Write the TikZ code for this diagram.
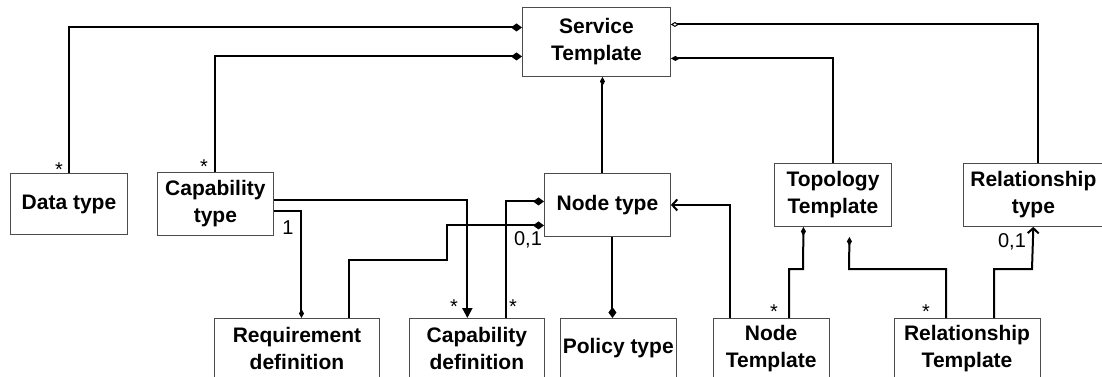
\documentclass[tikz,border=0pt]{standalone}
\usepackage{fontspec}
\setmainfont{Liberation Sans}
\usetikzlibrary{positioning,arrows.meta}

\tikzset{
  box/.style={draw=black!70, line width=0.9pt, fill=white, align=center, inner sep=0pt,
    font=\fontsize{21}{27}\selectfont\bfseries},
  link/.style={line width=2pt},
  mult/.style={inner sep=0pt, anchor=base, font=\fontsize{20}{24}\selectfont},
  comp/.style={link, -{Diamond[length=11pt,width=8pt]}},
  compsm/.style={link, -{Diamond[length=9pt,width=5pt]}},
  aggr/.style={link, -{Diamond[open,length=8pt,width=5pt,line width=1pt]}},
  assoc/.style={link, -{Straight Barb[length=5pt,width=11pt]}},
  dep/.style={link, -{Triangle[length=10pt,width=10pt]}},
}

\begin{document}
\begin{tikzpicture}[x=1pt, y=-1pt]
  \useasboundingbox (0,0) rectangle (1102,376);
  \clip (0,0) rectangle (1102,376);

  % --- Root node ---
  \node[box, anchor=north west, minimum width=148pt, minimum height=69pt] (st) at (522,7) {Service\\Template};

  % --- Type row ---
  \node[box, anchor=north west, minimum width=117pt, minimum height=61pt] (datatype) at (10,173) {Data type};
  \node[box, minimum width=116pt, minimum height=63pt] (captype) [right=29pt of datatype] {Capability\\type};
  \node[box, anchor=north west, minimum width=126pt, minimum height=63pt] (nodetype) at (544,173) {Node type};
  \node[box, anchor=north west, minimum width=117pt, minimum height=63pt] (topo) at (774,163) {Topology\\Template};
  \node[box, minimum width=140pt, minimum height=63pt] (reltype) [right=71pt of topo] {Relationship\\type};

  % --- Bottom row, placed relative to one another ---
  \node[box, anchor=north west, minimum width=165pt, minimum height=60pt] (reqdef) at (214,318) {Requirement\\definition};
  \node[box, minimum width=135pt, minimum height=60pt] (capdef) [right=29pt of reqdef] {Capability\\definition};
  \node[box, minimum width=116pt, minimum height=60pt] (policy) [right=15pt of capdef] {Policy type};
  \node[box, minimum width=116pt, minimum height=60pt] (nodetpl) [right=36pt of policy] {Node\\Template};
  \node[box, minimum width=146pt, minimum height=60pt] (reltpl) [right=64pt of nodetpl] {Relationship\\Template};

  % --- Links to the service template ---
  \draw[comp] (datatype.north) |- ([yshift=14.5pt]st.west);
  \draw[comp] (captype.north) |- ([yshift=-14.5pt]st.west);
  \draw[aggr] ([xshift=5pt]reltype.north) |- ([yshift=17.5pt]st.east);
  \draw[compsm] (topo.north) |- ([yshift=-16.5pt]st.east);
  \draw[compsm] ([xshift=-5pt]nodetype.north) -- ([xshift=-5pt]nodetype.north |- st.south);

  % --- Capability type links ---
  \draw[dep] ([yshift=3.5pt]captype.east) -| ([xshift=-9.5pt]capdef.north);
  \draw[compsm] ([yshift=-7.5pt]captype.east) -| ([xshift=4.5pt]reqdef.north);

  % --- Node type links ---
  \draw[comp] ([xshift=52.5pt]reqdef.north) |- (447,260) |- ([yshift=-20.5pt]nodetype.west);
  \draw[comp] ([xshift=29.5pt]capdef.north) |- ([yshift=3.5pt]nodetype.west);
  \draw[comp] ([xshift=5pt]nodetype.south) -- ([xshift=5pt]nodetype.south |- policy.north);
  \draw[assoc] ([xshift=-41pt]nodetpl.north) |- (nodetype.east);

  % --- Topology template links ---
  \draw[compsm] ([xshift=18pt]nodetpl.north) |- (803,269) -- ([xshift=-29.5pt]topo.south);
  \draw[compsm] ([xshift=-21pt]reltpl.north) |- (849,269) -- ([xshift=16.5pt,yshift=-10pt]topo.south);
  \draw[assoc] ([xshift=27pt]reltpl.north) |- (1032,269) -- (reltype.south);

  % --- Multiplicities ---
  \node[mult] (m1) at (59,176) {*};
  \node[mult] (m2) at (204,173) {*};
  \node[mult] (m3) at (288,234) {1};
  \node[mult] (m4) at (528,245) {0,1};
  \node[mult] (m5) at (454,313) {*};
  \node[mult] (m6) at (513,313) {*};
  \node[mult] (m7) at (774,318) {*};
  \node[mult] (m8) at (926,318) {*};
  \node[mult] (m9) at (1012,247) {0,1};
\end{tikzpicture}
\end{document}
